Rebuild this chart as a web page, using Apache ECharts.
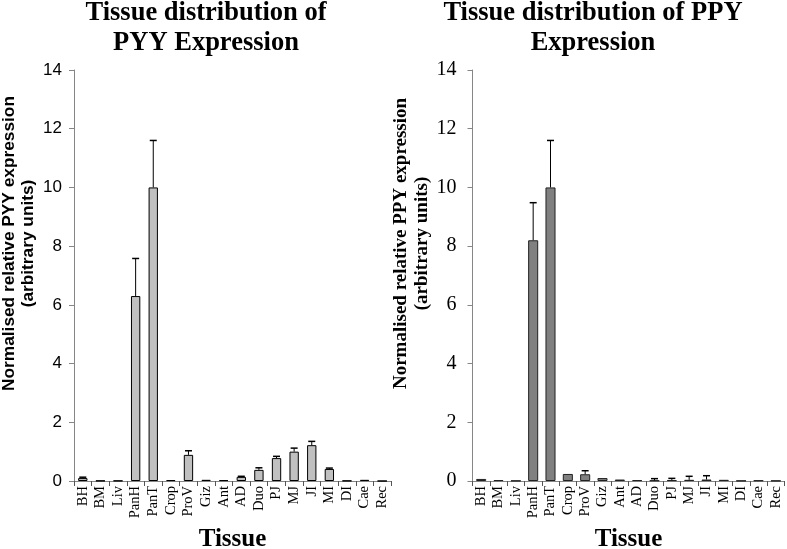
<!DOCTYPE html>
<html><head><meta charset="utf-8">
<script src="https://cdn.jsdelivr.net/npm/echarts@6/dist/echarts.min.js"></script>
<style>html,body{margin:0;padding:0;background:#fff}#c{width:787px;height:549px}</style>
</head><body><div id="c"></div>
<script>
const categories = ['BH','BM','Liv','PanH','PanT','Crop','ProV','Giz','Ant','AD','Duo','PJ','MJ','JI','MI','DI','Cae','Rec'];
const pyyValues = [0.1, 0.01, 0.01, 6.3, 10.0, 0.03, 0.89, 0.04, 0.03, 0.14, 0.38, 0.78, 1.0, 1.22, 0.41, 0.01, 0.04, 0.0];
const pyyErrors = [0.03, 0, 0, 1.28, 1.6, 0.01, 0.14, 0.01, 0.01, 0.02, 0.07, 0.06, 0.12, 0.13, 0.03, 0, 0.01, 0];
const ppyValues = [0.07, 0.03, 0.01, 8.2, 10.0, 0.24, 0.23, 0.1, 0.05, 0.03, 0.02, 0.03, 0.04, 0.05, 0.04, 0.01, 0.02, 0.01];
const ppyErrors = [0.01, 0, 0, 1.28, 1.6, 0, 0.12, 0, 0, 0, 0.06, 0.06, 0.12, 0.13, 0, 0, 0, 0];
const yTicks = [0, 2, 4, 6, 8, 10, 12, 14];

const chart = echarts.init(document.getElementById('c'));
const serif = '"Liberation Serif", "DejaVu Serif", serif';
const sans = '"Liberation Sans", "Open Sans", sans-serif';

function errSeries(idx, vals, errs) {
  return {
    type: 'custom', xAxisIndex: idx, yAxisIndex: idx, z: 5,
    data: vals.map((v, i) => [i, v, v + errs[i]]),
    renderItem: function (params, api) {
      const lo = api.coord([api.value(0), api.value(1)]);
      const hi = api.coord([api.value(0), api.value(2)]);
      if (Math.abs(lo[1] - hi[1]) < 0.5) return null;
      const w = 3.5;
      return { type: 'group', children: [
        { type: 'line', shape: { x1: lo[0], y1: lo[1], x2: hi[0], y2: hi[1] }, style: { stroke: '#000', lineWidth: 1 } },
        { type: 'line', shape: { x1: hi[0] - w, y1: hi[1], x2: hi[0] + w, y2: hi[1] }, style: { stroke: '#000', lineWidth: 1.5 } }
      ]};
    }
  };
}

function xAx(idx) {
  return {
    type: 'category', gridIndex: idx, data: categories,
    axisLine: { lineStyle: { color: '#868686', width: 1 } },
    axisTick: { show: true, length: 5, lineStyle: { color: '#555' } },
    axisLabel: { rotate: 90, fontFamily: serif, fontSize: 14.5, color: '#000', margin: 5, interval: 0 },
    name: 'Tissue', nameLocation: 'middle', nameGap: 46,
    nameTextStyle: { fontFamily: serif, fontWeight: 'bold', fontSize: 25, color: '#000', verticalAlign: 'top' }
  };
}
function yAx(idx, name, nameFont, nameSize, nameGap, labelFont, labelSize, labelMargin) {
  return {
    type: 'value', gridIndex: idx, min: yTicks[0], max: yTicks[yTicks.length - 1], interval: 2,
    axisLine: { show: true, lineStyle: { color: '#868686', width: 1 } },
    axisTick: { show: true, length: 5, lineStyle: { color: '#868686' } },
    splitLine: { show: false },
    axisLabel: { fontFamily: labelFont, fontSize: labelSize, color: '#000', margin: labelMargin },
    name: name, nameLocation: 'middle', nameRotate: 90, nameGap: nameGap,
    nameTextStyle: { fontFamily: nameFont, fontWeight: 'bold', fontSize: nameSize, color: '#000',
      lineHeight: nameSize + 2, padding: [0, 0, 0, 64] }
  };
}

chart.setOption({
  animation: false,
  title: [
    { text: 'Tissue distribution of\nPYY Expression', left: 201, top: -7, textAlign: 'center',
      textStyle: { fontFamily: serif, fontWeight: 'bold', fontSize: 26.5, lineHeight: 30, color: '#000' } },
    { text: 'Tissue distribution of PPY\nExpression', left: 588, top: -7, textAlign: 'center',
      textStyle: { fontFamily: serif, fontWeight: 'bold', fontSize: 26.5, lineHeight: 30, color: '#000' } }
  ],
  grid: [
    { left: 74, top: 70, width: 317, height: 411, outerBoundsMode: 'none' },
    { left: 472.5, top: 70, width: 312, height: 411, outerBoundsMode: 'none' }
  ],
  xAxis: [xAx(0), xAx(1)],
  yAxis: [
    yAx(0, 'Normalised relative PYY expression\n(arbitrary units)', sans, 17.3, 36, sans, 17, 12),
    yAx(1, 'Normalised relative PPY expression\n(arbitrary units)', serif, 19, 35, serif, 20, 16)
  ],
  series: [
    { type: 'bar', xAxisIndex: 0, yAxisIndex: 0, data: pyyValues, barCategoryGap: '47%',
      itemStyle: { color: '#c0c0c0', borderColor: '#000', borderWidth: 1 } },
    errSeries(0, pyyValues, pyyErrors),
    { type: 'bar', xAxisIndex: 1, yAxisIndex: 1, data: ppyValues, barCategoryGap: '42%',
      itemStyle: { color: '#808080', borderColor: '#222', borderWidth: 1 } },
    errSeries(1, ppyValues, ppyErrors)
  ]
});
</script></body></html>
